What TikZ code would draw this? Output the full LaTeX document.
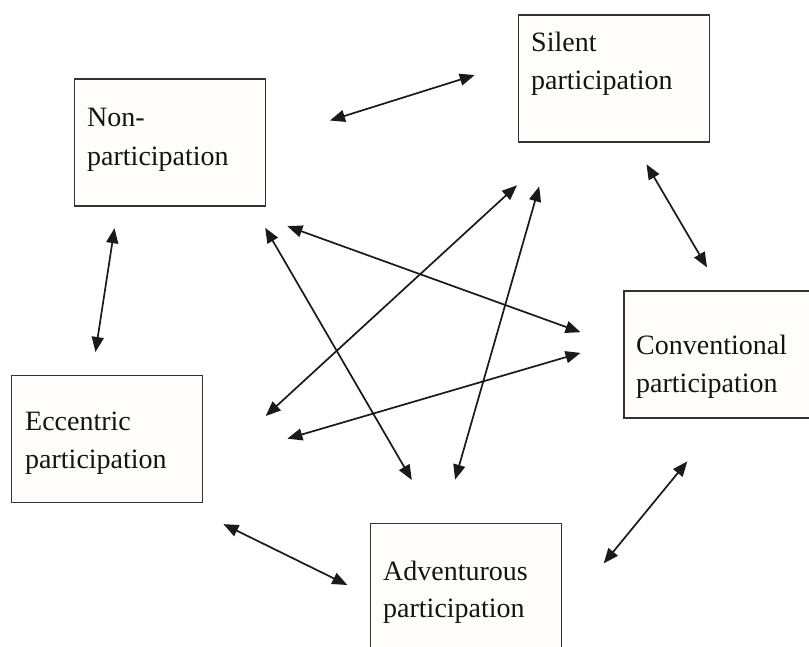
\documentclass[tikz,border=0pt]{standalone}
\usepackage{fontspec}
\setmainfont{Liberation Serif}
\usetikzlibrary{arrows.meta}
\definecolor{boxline}{HTML}{333333}
\definecolor{boxfill}{HTML}{FEFDFB}
\definecolor{arrowcol}{HTML}{1A1A1A}
\tikzset{
  box/.style={draw=boxline, fill=boxfill, line width=1.8pt, anchor=north west, inner sep=0pt, minimum width=191pt, minimum height=127pt},
  lbl/.style={anchor=base west, inner sep=0pt, font=\fontsize{28}{38}\selectfont, text=black!92},
  link/.style={draw=arrowcol, line width=1.7pt, {Triangle[length=15pt,width=12pt]}-{Triangle[length=15pt,width=12pt]}}
}
\begin{document}
\begin{tikzpicture}[x=1pt,y=-1pt]
\clip (0,0) rectangle (809,647);
\fill[white] (0,0) rectangle (809,647);
% boxes
\node[box] (non) at (73.5,78.5) {};
\node[box] (silent) at (517.5,14.5) {};
\node[box] (conv) at (623,290) {};
\node[box] (ecc) at (10.5,374.5) {};
\node[box] (adv) at (369.5,522.5) {};
% labels
\node[lbl] (nonA) at (87,127) {Non-};
\node[lbl] (nonB) at (87,166) {participation};
\node[lbl] (silA) at (531,52) {Silent};
\node[lbl] (silB) at (531,90) {participation};
\node[lbl] (convA) at (636,354) {Conventional};
\node[lbl] (convB) at (636,392) {participation};
\node[lbl] (eccA) at (25,430) {Eccentric};
\node[lbl] (eccB) at (25,468) {participation};
\node[lbl] (advA) at (383,580) {Adventurous};
\node[lbl] (advB) at (383,617) {participation};
% arrow end points
\coordinate (a1) at (330,120.5);   \coordinate (b1) at (474.7,75.1);
\coordinate (a2) at (114.5,228.2); \coordinate (b2) at (95.5,352);
\coordinate (a3) at (646.5,164.3); \coordinate (b3) at (707,267.4);
\coordinate (a4) at (223.4,524.1); \coordinate (b4) at (347.3,585);
\coordinate (a5) at (603.7,563.4); \coordinate (b5) at (687.3,461.4);
\coordinate (a6) at (287.4,226.2); \coordinate (b6) at (580.5,332.2);
\coordinate (a7) at (265.2,227.8); \coordinate (b7) at (411.8,480);
\coordinate (a8) at (517,185.3);   \coordinate (b8) at (265.7,416);
\coordinate (a9) at (539.2,186.5); \coordinate (b9) at (455.1,479.6);
\coordinate (a10) at (580.5,352.9); \coordinate (b10) at (287.4,438.7);
% connectors
\foreach \i in {1,...,10} { \draw[link] (a\i) -- (b\i); }
\end{tikzpicture}
\end{document}
